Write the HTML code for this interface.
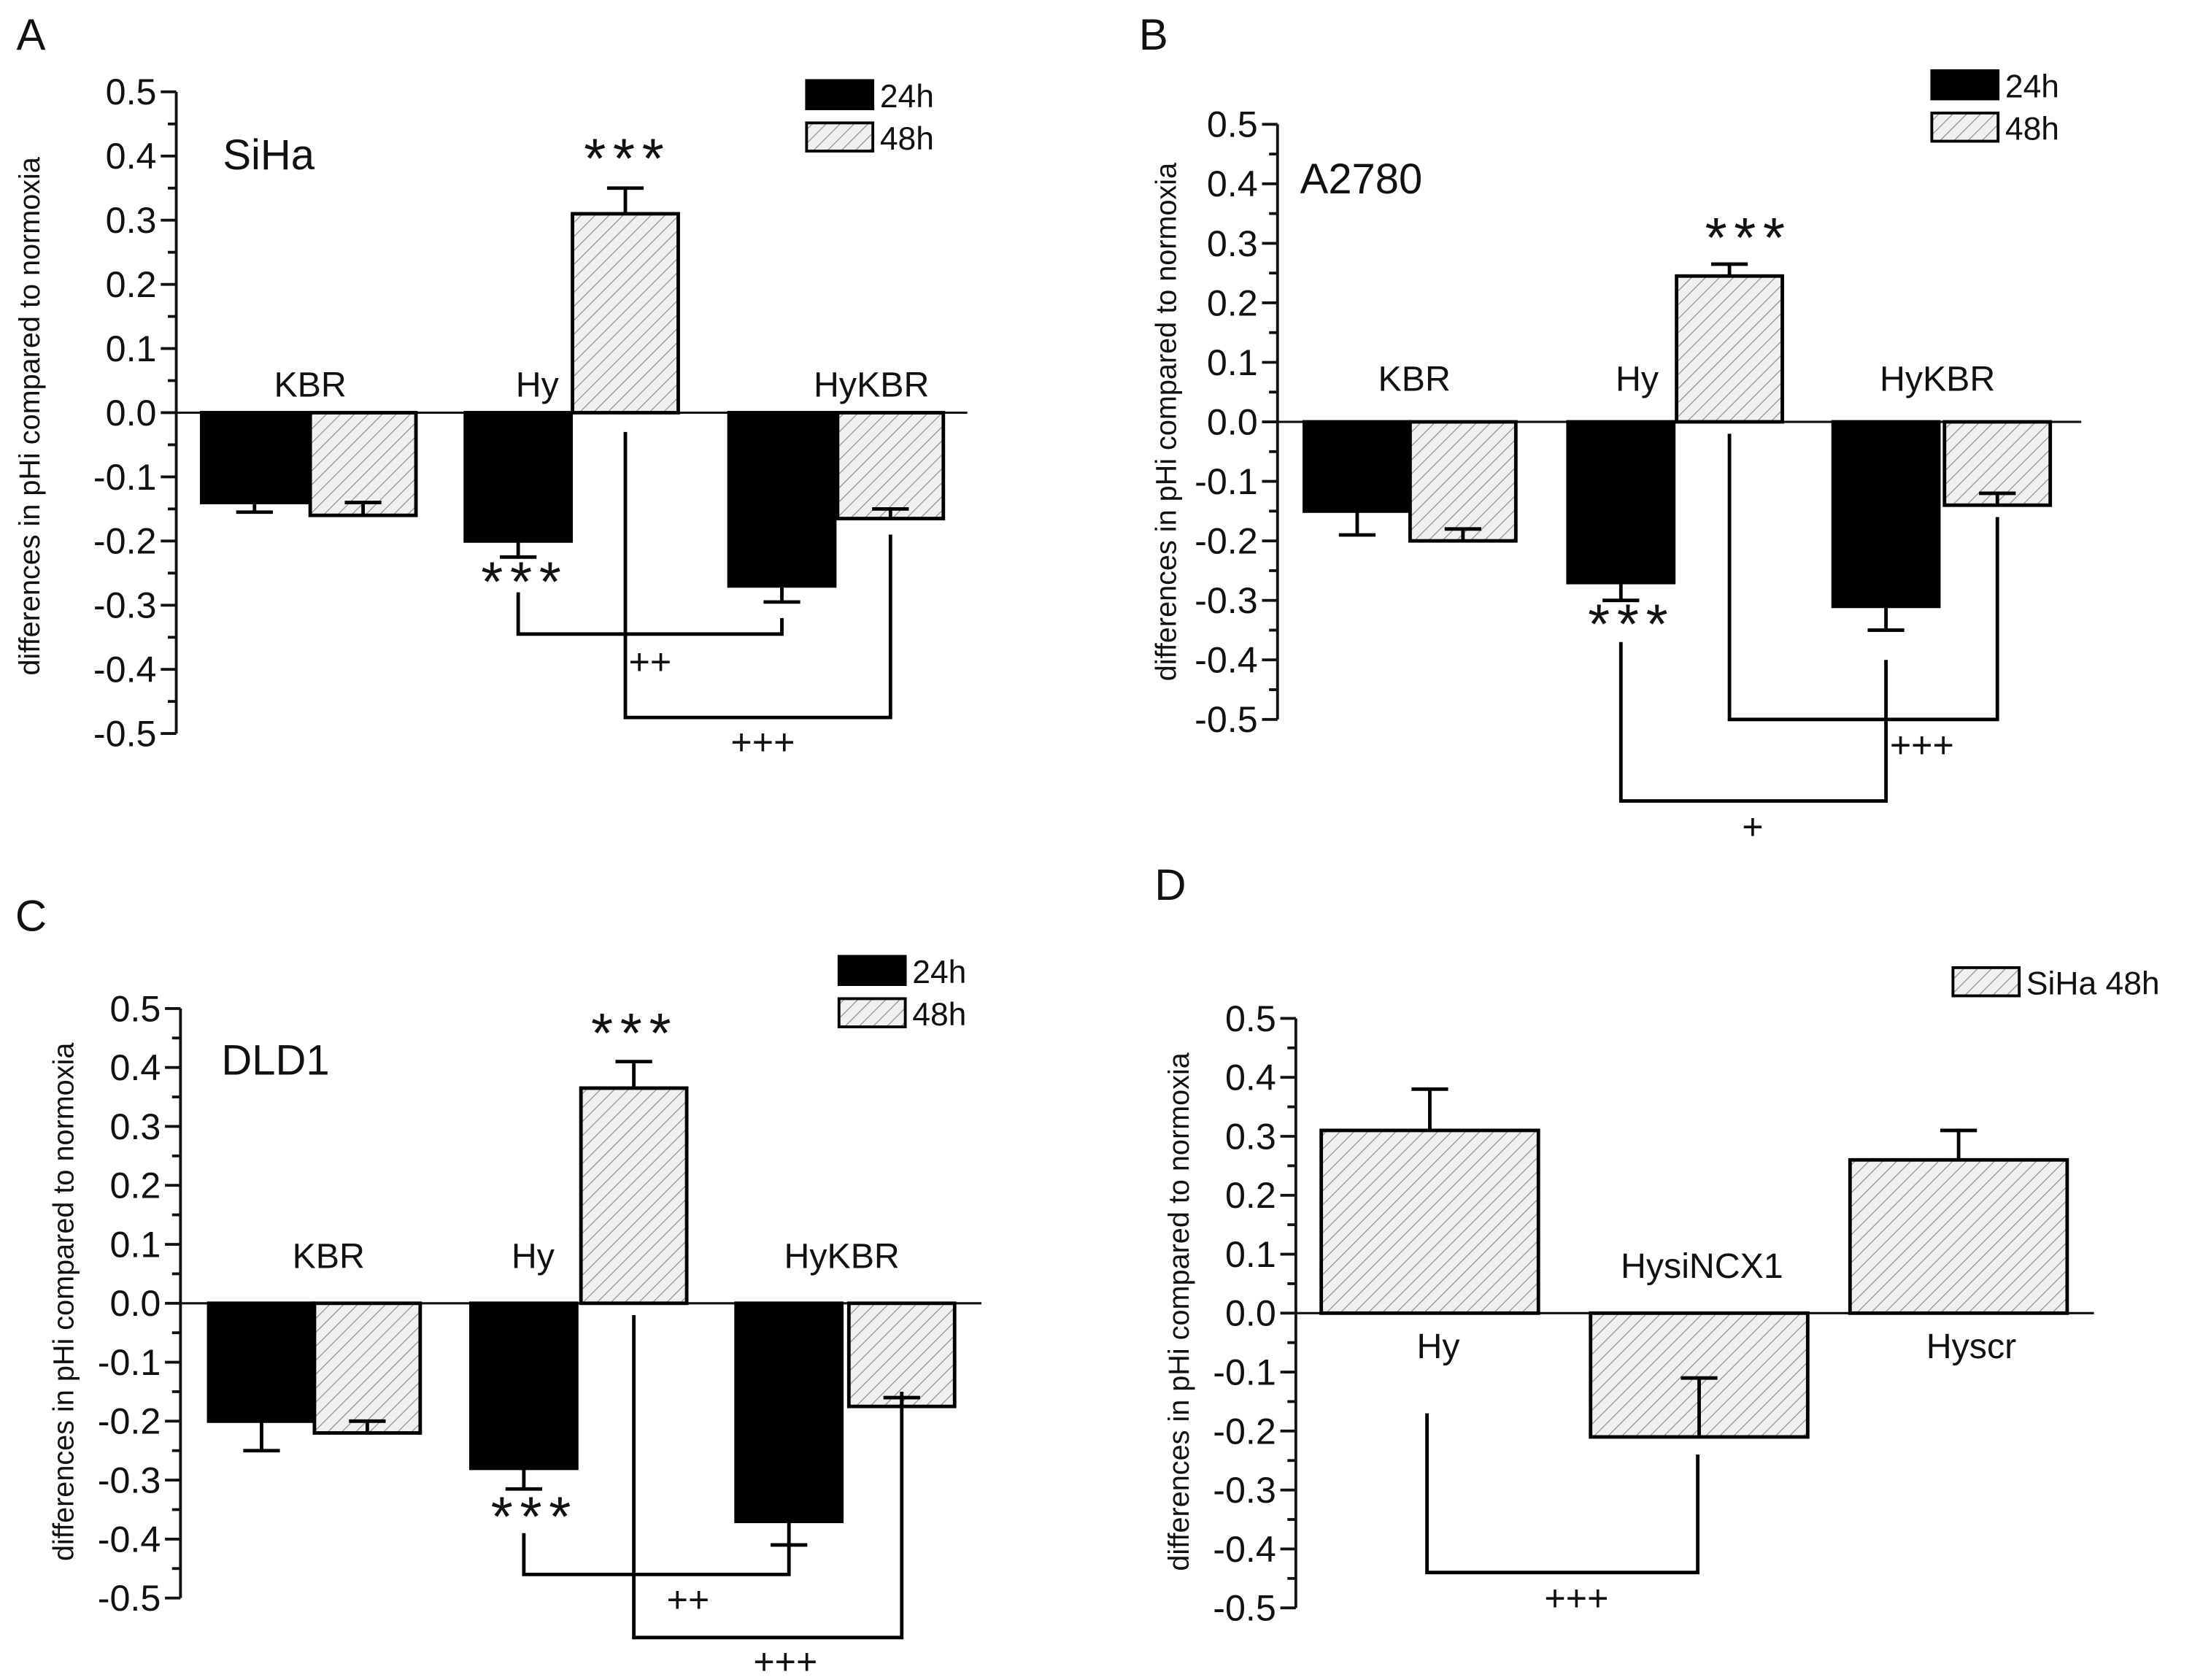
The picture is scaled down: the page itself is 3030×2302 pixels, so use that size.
<!DOCTYPE html>
<html><head><meta charset="utf-8">
<style>
html,body{margin:0;padding:0;background:#fff;}
svg{display:block;}
text{font-family:"Liberation Sans",Arial,sans-serif;fill:#111;}
</style></head>
<body>
<svg id="fig" width="3030" height="2302" viewBox="0 0 1568 1191" xmlns="http://www.w3.org/2000/svg">
<defs>
<pattern id="hatch" patternUnits="userSpaceOnUse" width="7" height="7" patternTransform="rotate(45)">
<rect width="7" height="7" fill="#f0f0f0"/>
<line x1="0" y1="0" x2="0" y2="7" stroke="#8a8a8a" stroke-width="1.2"/>
</pattern>
</defs>
<g id="root"></g>
</svg>
<script>
// ---- data ----
const tickLabels = ["0.5","0.4","0.3","0.2","0.1","0.0","-0.1","-0.2","-0.3","-0.4","-0.5"];
const tickValues = [0.5,0.4,0.3,0.2,0.1,0,-0.1,-0.2,-0.3,-0.4,-0.5];
const groupsABC = ["KBR","Hy","HyKBR"];
const seriesNames = ["24h","48h"];

const siha24 = [-0.14,-0.20,-0.27];
const siha48 = [-0.16,0.31,-0.165];
const siha24err = [-0.155,-0.225,-0.295];
const siha48err = [-0.14,0.35,-0.15];

const a2780_24 = [-0.15,-0.27,-0.31];
const a2780_48 = [-0.20,0.245,-0.14];
const a2780_24err = [-0.19,-0.30,-0.35];
const a2780_48err = [-0.18,0.265,-0.12];

const dld1_24 = [-0.20,-0.28,-0.37];
const dld1_48 = [-0.22,0.365,-0.175];
const dld1_24err = [-0.25,-0.315,-0.41];
const dld1_48err = [-0.20,0.41,-0.16];

const groupsD = ["Hy","HysiNCX1","Hyscr"];
const sihaD = [0.31,-0.21,0.26];
const sihaDerr = [0.38,-0.11,0.31];

// ---- layout (pixel geometry, not data) ----
const panels = [
 {id:"a",letter:"A",lx:22,ly:35,ax:125,yTop:65,yBot:520,xEnd:686,cell:"SiHa",cx:158,cy:120,
  barX:[143,220,330,406,517,594],bw:75,s24:siha24,s48:siha48,e24:siha24err,e48:siha48err,
  gl:[[220,281],[381,281],[618,281]],leg:[572,57],title:[28,295],
  stars:[[443,110,1],[370,410,0]],
  br:[{a:2,b:4,ta:-0.28,tb:-0.32,bot:-0.345,lab:"++",lx:461,ly:478},{a:3,b:5,ta:-0.03,tb:-0.19,bot:-0.475,lab:"+++",lx:541,ly:535}]},
 {id:"b",letter:"B",lx:818,ly:35,ax:906,yTop:88,yBot:510,xEnd:1476,cell:"A2780",cx:922,cy:137,
  barX:[925,1000,1112,1189,1300,1379],bw:75,s24:a2780_24,s48:a2780_48,e24:a2780_24err,e48:a2780_48err,
  gl:[[1003,277],[1161,277],[1374,277]],leg:[1370,50],title:[834,299],
  stars:[[1238,166,1],[1155,440,0]],
  br:[{a:2,b:4,ta:-0.37,tb:-0.40,bot:-0.637,lab:"+",lx:1243,ly:595},{a:3,b:5,ta:-0.02,tb:-0.16,bot:-0.5,lab:"+++",lx:1363,ly:537}]},
 {id:"c",letter:"C",lx:22,ly:660,ax:128,yTop:715,yBot:1133,xEnd:696,cell:"DLD1",cx:157,cy:762,
  barX:[148,223,334,412,522,602],bw:75,s24:dld1_24,s48:dld1_48,e24:dld1_24err,e48:dld1_48err,
  gl:[[233,899],[378,899],[597,899]],leg:[595,678],title:[52,923],
  stars:[[448,730,1],[377,1073,0]],
  br:[{a:2,b:4,ta:-0.39,tb:-0.41,bot:-0.46,lab:"++",lx:488,ly:1143},{a:3,b:5,ta:-0.02,tb:-0.15,bot:-0.567,lab:"+++",lx:557,ly:1187}]}
];

const NS="http://www.w3.org/2000/svg";
const root=document.getElementById('root');
function el(tag,attrs,parent){const e=document.createElementNS(NS,tag);for(const k in attrs)e.setAttribute(k,attrs[k]);(parent||root).appendChild(e);return e;}
function txt(s,x,y,size,anchor,parent){const t=el('text',{x:x,y:y,'font-size':size,'text-anchor':anchor||'middle'},parent);t.textContent=s;return t;}

function axis(g,ax,yTop,yBot,xEnd,titleX,titleY){
  const ys=v=>yTop+(0.5-v)/1.0*(yBot-yTop);
  const ax_=el('line',{x1:ax,y1:yTop,x2:ax,y2:yBot,stroke:'#111','stroke-width':2},g);
  
  
  for(let i=0;i<tickValues.length;i++){
    const y=ys(tickValues[i]);
    el('line',{x1:ax-11,y1:y,x2:ax,y2:y,stroke:'#111','stroke-width':2},g);
    const t=txt(tickLabels[i],ax-14,y+9,26,'end',g);
    
    
    if(i<tickValues.length-1){const ym=ys(tickValues[i]-0.05);el('line',{x1:ax-6,y1:ym,x2:ax,y2:ym,stroke:'#111','stroke-width':2},g);}
  }
  const z=el('line',{x1:ax,y1:ys(0),x2:xEnd,y2:ys(0),stroke:'#111','stroke-width':1.6},g);
  
  
  const t=txt('differences in pHi compared to normoxia',titleX,titleY,20.5,'middle',g);
  t.setAttribute('transform','rotate(-90 '+titleX+' '+titleY+')');
  
  
  return ys;
}
function bar(g,x,w,v,err,ys,black,name){
  const y0=ys(0),y1=ys(v);
  const r=el('rect',{x:x,y:Math.min(y0,y1),width:w,height:Math.abs(y1-y0),fill:black?'#000':'url(#hatch)',stroke:'#000','stroke-width':2.5},g);
  
  
  const cx=x+w/2,ye=ys(err);
  const e=el('path',{d:'M'+cx+' '+y1+'V'+ye+'M'+(cx-13)+' '+ye+'H'+(cx+13),stroke:'#000','stroke-width':2.5,fill:'none'},g);
  
  
}
function bracket(g,xa,xb,ta,tb,bot,ys,lab,lx,ly){
  const p=el('path',{d:'M'+xa+' '+ys(ta)+'V'+ys(bot)+'H'+xb+'V'+ys(tb),stroke:'#000','stroke-width':2.5,fill:'none'},g);
  
  
  const t=txt(lab,lx,ly,26,'middle',g);
  
  
}
function legendItem(g,x,y,black,label){
  const r=el('rect',{x:x,y:y,width:47,height:20,fill:black?'#000':'url(#hatch)',stroke:'#000','stroke-width':2},g);
  
  
  const t=txt(label,x+52,y+19,23,'start',g);
  
  
}
function stars(g,x,y){
  const t=txt('***',x+2,y+16,40,'middle',g);
  t.setAttribute('letter-spacing','5');
  
  
}

panels.forEach(P=>{
  const g=el('g',{});
  
  
  const L=txt(P.letter,P.lx,P.ly,31,'middle',g);
  
  
  const ys=axis(g,P.ax,P.yTop,P.yBot,P.xEnd,P.title[0],P.title[1]);
  const C=txt(P.cell,P.cx,P.cy,30,'start',g);
  
  
  for(let i=0;i<3;i++){
    bar(g,P.barX[2*i],P.bw,P.s24[i],P.e24[i],ys,true,'bar-'+groupsABC[i].toLowerCase()+'-24h');
    bar(g,P.barX[2*i+1],P.bw,P.s48[i],P.e48[i],ys,false,'bar-'+groupsABC[i].toLowerCase()+'-48h');
    const t=txt(groupsABC[i],P.gl[i][0],P.gl[i][1],25,'middle',g);
    
    
  }
  P.stars.forEach(s=>stars(g,s[0],s[1]));
  const cen=k=>P.barX[k]+P.bw/2;
  P.br.forEach(b=>bracket(g,cen(b.a),cen(b.b),b.ta,b.tb,b.bot,ys,b.lab,b.lx,b.ly));
  legendItem(g,P.leg[0],P.leg[1],true,seriesNames[0]);
  legendItem(g,P.leg[0],P.leg[1]+30,false,seriesNames[1]);
});

// panel D
(function(){
  const g=el('g',{});
  
  
  const L=txt('D',830,638,31,'middle',g);
  
  
  const ys=axis(g,919,722,1140,1485,843,930);
  const bx=[937,1128,1312],bw=154;
  const lab=[[1020,963],[1207,906],[1398,963]];
  for(let i=0;i<3;i++){
    bar(g,bx[i],bw,sihaD[i],sihaDerr[i],ys,false,'bar-'+groupsD[i].toLowerCase());
    const t=txt(groupsD[i],lab[i][0],lab[i][1],25,'middle',g);
    
    
  }
  bracket(g,bx[0]+bw/2-2,bx[1]+bw/2-1,-0.17,-0.24,-0.44,ys,'+++',1118,1142);
  legendItem(g,1385,686,false,'SiHa 48h');
})();
</script>
</body></html>
